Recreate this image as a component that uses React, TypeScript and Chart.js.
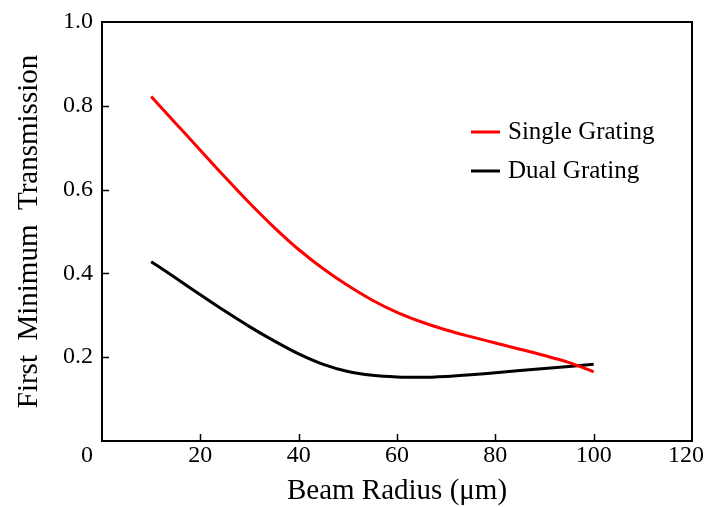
import React, { useEffect, useRef } from "react";
import { Chart, registerables } from "chart.js";

Chart.register(...registerables);

const beamRadius = [10, 15, 20, 25, 30, 35, 40, 45, 50, 55, 60, 65, 70, 75, 80, 85, 90, 95, 100];
const singleGrating = [0.822, 0.758, 0.694, 0.630, 0.568, 0.510, 0.457, 0.411, 0.371, 0.336, 0.307, 0.284, 0.265, 0.249, 0.234, 0.219, 0.204, 0.187, 0.165];
const dualGrating = [0.428, 0.389, 0.349, 0.310, 0.273, 0.239, 0.208, 0.183, 0.166, 0.157, 0.153, 0.152, 0.154, 0.158, 0.163, 0.168, 0.173, 0.178, 0.183];

const xTicks = [0, 20, 40, 60, 80, 100, 120];
const yTicks = [0, 0.2, 0.4, 0.6, 0.8, 1.0];

const seriesNames = ["Single Grating", "Dual Grating"];
const seriesColors = ["#ff0000", "#000000"];

const FONT = "'Liberation Serif', 'Times New Roman', serif";

const framePlugin = {
  id: "frame",
  afterDraw(chart: any) {
    const { ctx, chartArea } = chart;
    const xs = chart.scales.x;
    const ys = chart.scales.y;
    ctx.save();
    ctx.strokeStyle = "#000";
    ctx.lineWidth = 2;
    ctx.strokeRect(chartArea.left, chartArea.top, chartArea.right - chartArea.left, chartArea.bottom - chartArea.top);
    ctx.lineWidth = 1.5;
    ctx.beginPath();
    xTicks.forEach((v) => {
      if (v <= xs.min || v >= xs.max) return;
      const px = Math.round(xs.getPixelForValue(v)) + 0.5;
      ctx.moveTo(px, chartArea.bottom);
      ctx.lineTo(px, chartArea.bottom - 7);
    });
    yTicks.forEach((v) => {
      if (v <= ys.min || v >= ys.max) return;
      const py = Math.round(ys.getPixelForValue(v)) + 0.5;
      ctx.moveTo(chartArea.left, py);
      ctx.lineTo(chartArea.left + 7, py);
    });
    ctx.stroke();
    // origin label and last x label (shifted to fit, as in the original)
    ctx.fillStyle = "#000";
    ctx.font = `24px ${FONT}`;
    ctx.textAlign = "right";
    ctx.textBaseline = "middle";
    ctx.fillText(String(xTicks[0]), chartArea.left - 9, chartArea.bottom + 15);
    ctx.textAlign = "center";
    ctx.fillText(String(xTicks[xTicks.length - 1]), xs.getPixelForValue(xs.max) - 6, chartArea.bottom + 15);
    // legend
    ctx.font = `25px ${FONT}`;
    ctx.textAlign = "left";
    chart.data.datasets.forEach((ds: any, i: number) => {
      const y = chartArea.top + 110 + i * 39;
      const x0 = chartArea.right - 221;
      ctx.strokeStyle = ds.borderColor;
      ctx.lineWidth = 3;
      ctx.beginPath();
      ctx.moveTo(x0, y);
      ctx.lineTo(x0 + 29, y);
      ctx.stroke();
      ctx.fillStyle = "#000";
      ctx.fillText(ds.label, x0 + 37, y);
    });
    ctx.restore();
  },
};

export default function App() {
  const canvasRef = useRef<HTMLCanvasElement | null>(null);

  useEffect(() => {
    if (!canvasRef.current) return;
    const datasets = [singleGrating, dualGrating].map((vals, i) => ({
      label: seriesNames[i],
      data: beamRadius.map((x, j) => ({ x, y: vals[j] })),
      borderColor: seriesColors[i],
      backgroundColor: seriesColors[i],
      borderWidth: 3,
      pointRadius: 0,
      cubicInterpolationMode: "monotone" as const,
      fill: false,
    }));
    const chart = new Chart(canvasRef.current, {
      type: "line",
      data: { datasets },
      plugins: [framePlugin],
      options: {
        animation: false,
        responsive: false,
        maintainAspectRatio: false,
        layout: { padding: { top: 22, right: 16, left: 0, bottom: 0 } },
        plugins: { legend: { display: false }, tooltip: { enabled: false } },
        scales: {
          x: {
            type: "linear",
            min: 0,
            max: 120,
            grid: { display: false, drawTicks: false },
            border: { display: false },
            afterFit: (s: any) => {
              s.height = 66;
              s.paddingLeft = 0;
              s.paddingRight = 0;
            },
            ticks: {
              stepSize: 20,
              color: "#000",
              padding: 3,
              maxRotation: 0,
              font: { family: FONT, size: 24, lineHeight: 1 },
              callback: (v: any) => (Number(v) === xTicks[0] || Number(v) === xTicks[xTicks.length - 1] ? "" : String(v)),
            },
            title: {
              display: true,
              text: "Beam Radius (\u03bcm)",
              color: "#000",
              font: { family: FONT, size: 29, lineHeight: 1 },
              padding: { top: 0, bottom: 1.5 },
            },
          },
          y: {
            type: "linear",
            min: 0,
            max: 1,
            grid: { display: false, drawTicks: false },
            border: { display: false },
            afterFit: (s: any) => {
              s.width = 102;
              s.paddingTop = 0;
              s.paddingBottom = 0;
            },
            ticks: {
              stepSize: 0.2,
              color: "#000",
              padding: 9,
              font: { family: FONT, size: 24, lineHeight: 1 },
              callback: (v: any) => (Number(v) === 0 ? "" : Number(v).toFixed(1)),
            },
            title: {
              display: true,
              text: "First  Minimum  Transmission",
              color: "#000",
              font: { family: FONT, size: 29, lineHeight: 1 },
              padding: { top: 15, bottom: 0 },
            },
          },
        },
      },
    });
    return () => chart.destroy();
  }, []);

  return (
    <div style={{ position: "fixed", left: 0, top: 0, width: 708, height: 507, background: "#fff" }}>
      <canvas ref={canvasRef} width={708} height={507} style={{ display: "block", width: 708, height: 507 }} />
    </div>
  );
}
